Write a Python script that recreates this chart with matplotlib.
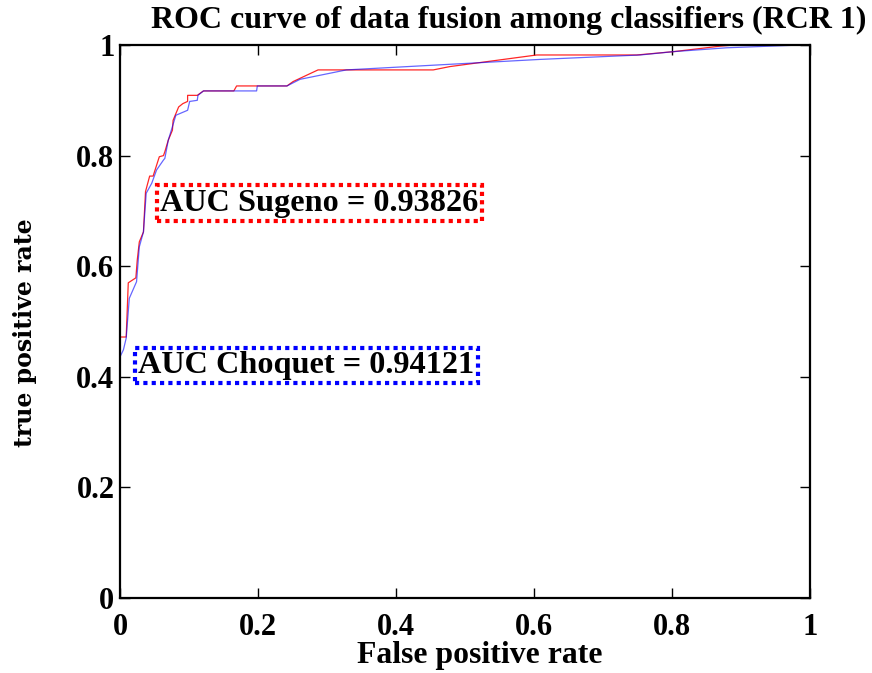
import matplotlib
matplotlib.use("Agg")
import matplotlib.pyplot as plt

# ROC curve points (false positive rate, true positive rate)
sugeno_fpr = [0.0, 0.0, 0.009, 0.012, 0.023, 0.025, 0.028, 0.034, 0.037, 0.043, 0.048,
              0.057, 0.063, 0.065, 0.070, 0.076, 0.077, 0.085, 0.091, 0.098, 0.098,
              0.112, 0.121, 0.165, 0.169, 0.242, 0.251, 0.287, 0.454, 0.478, 0.604,
              0.749, 0.802, 0.870, 0.890, 1.0]
sugeno_tpr = [0.0, 0.472, 0.472, 0.570, 0.579, 0.611, 0.644, 0.662, 0.735, 0.763, 0.763,
              0.798, 0.800, 0.807, 0.828, 0.846, 0.864, 0.888, 0.894, 0.898, 0.909,
              0.909, 0.917, 0.917, 0.926, 0.926, 0.934, 0.955, 0.955, 0.961, 0.982,
              0.982, 0.988, 0.998, 1.0, 1.0]

choquet_fpr = [0.0, 0.0, 0.005, 0.009, 0.0135, 0.024, 0.028, 0.034, 0.038, 0.046, 0.053,
               0.063, 0.065, 0.070, 0.081, 0.098, 0.101, 0.112, 0.113, 0.121, 0.198,
               0.199, 0.242, 0.261, 0.328, 0.609, 0.754, 0.802, 0.879, 0.986, 1.0]
choquet_tpr = [0.0, 0.436, 0.449, 0.470, 0.542, 0.572, 0.635, 0.662, 0.732, 0.750, 0.774,
               0.792, 0.795, 0.828, 0.873, 0.882, 0.898, 0.900, 0.909, 0.917, 0.917,
               0.926, 0.926, 0.938, 0.955, 0.974, 0.982, 0.988, 0.995, 1.0, 1.0]

auc_sugeno = 0.93826
auc_choquet = 0.94121
ticks = [0, 0.2, 0.4, 0.6, 0.8, 1]
tick_labels = ["0", "0.2", "0.4", "0.6", "0.8", "1"]

serif = ["Liberation Serif", "DejaVu Serif"]

fig = plt.figure(figsize=(8.72, 6.73), dpi=100)
ax = fig.add_axes([0.1376, 0.1114, 0.7913, 0.8217])

ax.plot(sugeno_fpr, sugeno_tpr, color="#ff0000", lw=0.9, alpha=0.85)
ax.plot(choquet_fpr, choquet_tpr, color="#0000ff", lw=0.9, alpha=0.6)

ax.set_xlim(0, 1)
ax.set_ylim(0, 1)
ax.set_xticks(ticks)
ax.set_yticks(ticks)
ax.set_xticklabels(tick_labels, fontfamily=serif, fontweight="bold", fontsize=22)
ax.set_yticklabels(tick_labels, fontfamily=serif, fontweight="bold", fontsize=22)
ax.tick_params(direction="in", length=7, width=1, top=True, right=True)
ax.tick_params(axis="x", pad=11)
ax.tick_params(axis="y", pad=4)
for s in ax.spines.values():
    s.set_linewidth(1.6)

fig.text(0.5837, 0.970, "ROC curve of data fusion among classifiers (RCR 1)",
         ha="center", va="center", fontfamily=serif, fontweight="bold", fontsize=23)
fig.text(0.5505, 0.0267, "False positive rate", ha="center", va="center",
         fontfamily=serif, fontweight="bold", fontsize=22.9)
fig.text(0.0285, 0.505, "true positive rate", ha="center", va="center", rotation=90,
         fontfamily="DejaVu Serif", fontweight="bold", fontsize=17)

ax.text(0.289, 0.714, f"AUC Sugeno = {auc_sugeno:.5f}", ha="center", va="center",
        fontfamily=serif, fontweight="bold", fontsize=23.2,
        bbox=dict(boxstyle="square,pad=0.1", fc="white", ec="#ff0000", lw=3, ls=(0, (1, 1))))
ax.text(0.270, 0.420, f"AUC Choquet = {auc_choquet:.5f}", ha="center", va="center",
        fontfamily=serif, fontweight="bold", fontsize=23.2,
        bbox=dict(boxstyle="square,pad=0.1", fc="white", ec="#0000ff", lw=3, ls=(0, (1, 1))))

fig.savefig("out.png", dpi=100, facecolor="white")
